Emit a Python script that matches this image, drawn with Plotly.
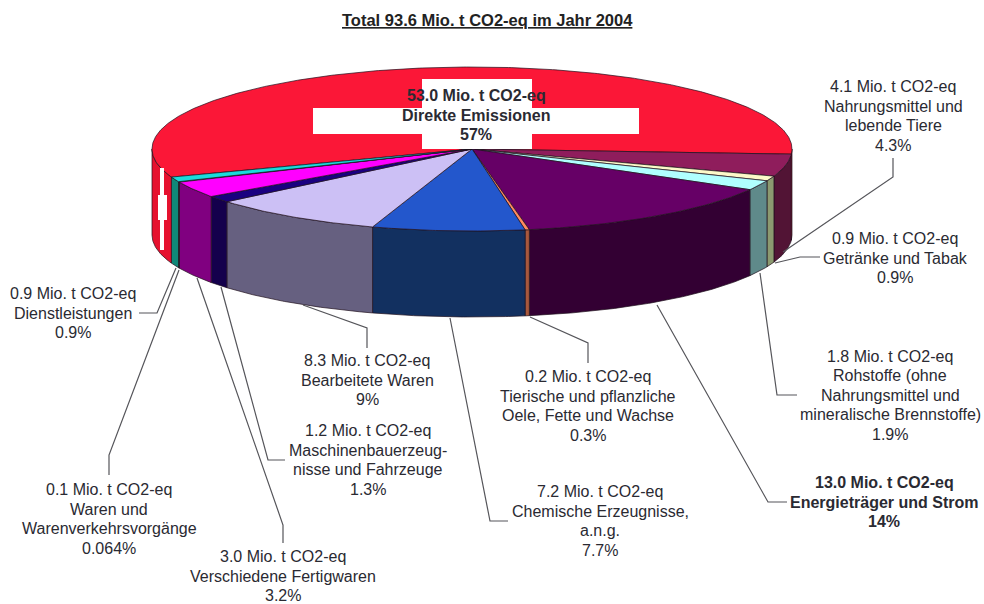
import numpy as np
import plotly.graph_objects as go

# ---- data (clockwise on screen, starting at the right edge) ----
categories = ["Nahrungsmittel", "Getraenke", "Rohstoffe", "Energie", "Tierische", "Chemische",
              "Bearbeitete", "Maschinen", "Verschiedene", "Waren", "Dienstleistungen", "Direkte"]
values = [4.1, 0.9, 1.8, 13.0, 0.2, 7.2, 8.3, 1.2, 3.0, 0.1, 0.9, 53.0]
top_colors = ["#8f1d5c", "#fdf9c9", "#b0ffff", "#660066", "#ff8a60", "#2357cc",
              "#ccc0f5", "#1a0080", "#ff00ff", "#2a2a2a", "#19dcdc", "#fb1737"]
side_colors = ["#521435", "#8c9a70", "#5f8a8a", "#330033", "#a8583c", "#123060",
               "#666080", "#14004c", "#800080", "#24402c", "#0f8878", "#e6112f"]
label_texts = [
    "4.1 Mio. t CO2-eq<br>Nahrungsmittel und<br>lebende Tiere<br>4.3%",
    "0.9 Mio. t CO2-eq<br>Getränke und Tabak<br>0.9%",
    "1.8 Mio. t CO2-eq<br>Rohstoffe (ohne<br>Nahrungsmittel und<br>mineralische Brennstoffe)<br>1.9%",
    "13.0 Mio. t CO2-eq<br>Energieträger und Strom<br>14%",
    "0.2 Mio. t CO2-eq<br>Tierische und pflanzliche<br>Oele, Fette und Wachse<br>0.3%",
    "7.2 Mio. t CO2-eq<br>Chemische Erzeugnisse,<br>a.n.g.<br>7.7%",
    "8.3 Mio. t CO2-eq<br>Bearbeitete Waren<br>9%",
    "1.2 Mio. t CO2-eq<br>Maschinenbauerzeug-<br>nisse und Fahrzeuge<br>1.3%",
    "3.0 Mio. t CO2-eq<br>Verschiedene Fertigwaren<br>3.2%",
    "0.1 Mio. t CO2-eq<br>Waren und<br>Warenverkehrsvorgänge<br>0.064%",
    "0.9 Mio. t CO2-eq<br>Dienstleistungen<br>0.9%",
    "53.0 Mio. t CO2-eq<br>Direkte Emissionen<br>57%",
]
label_bold = [False, False, False, True, False, False, False, False, False, False, False, True]
label_x = [893, 895, 890, 884, 588, 600, 367, 368, 283, 109, 73, 476]
label_y = [116, 258, 395, 502, 406, 521, 380, 460, 576, 519, 313, 115]
leader_lines = [
    [(893, 158), (893, 177), (783, 252)],
    [(820, 257), (800, 257), (775, 263)],
    [(797, 395), (777, 395), (760, 273)],
    [(787, 502), (768, 502), (657, 305)],
    [(588, 363), (588, 343), (530, 317)],
    [(508, 521), (490, 521), (450, 318)],
    [(367, 348), (367, 328), (303, 305)],
    [(285, 460), (268, 460), (221, 287)],
    [(283, 543), (283, 525), (197, 278)],
    [(109, 475), (109, 455), (179, 270)],
    [(139, 313), (157, 313), (176, 268)],
]

# ---- pie geometry ----
CX, CY, RX, RY, DEPTH = 472, 149, 320, 82, 86
START_DEG = 3.6
EDGE = "#20101c"
FONT = "Liberation Sans, Arial, sans-serif"
TEXT = "#2a2a32"
LINE_STEP = 19.5

shares = np.array(values) / sum(values) * 360.0
ends = START_DEG + np.cumsum(shares)
starts = ends - shares


def arc(a, b, dy=0.0):
    t = np.radians(np.linspace(a, b, max(int(abs(b - a)) * 2 + 2, 3)))
    return CX + RX * np.cos(t), CY + RY * np.sin(t) + dy


fig = go.Figure()


def poly(xs, ys, color):
    fig.add_trace(go.Scatter(x=xs, y=ys, mode="lines", fill="toself", fillcolor=color,
                             line=dict(color=EDGE, width=0.7), hoverinfo="skip", showlegend=False))


# side walls: only the part of each slice facing the viewer (0..180 degrees)
for a, b, c in zip(starts, ends, side_colors):
    for lo, hi in ((a, b), (a - 360, b - 360)):
        l, h = max(lo, 0), min(hi, 180)
        if h > l:
            x1, y1 = arc(l, h)
            x2, y2 = arc(h, l, DEPTH)
            poly(np.r_[x1, x2, x1[0]], np.r_[y1, y2, y1[0]], c)

# top faces, red one first
for i in [11] + list(range(11)):
    x, y = arc(starts[i], ends[i])
    poly(np.r_[CX, x, CX], np.r_[CY, y, CY], top_colors[i])

# Swiss cross on the red slice and on its side wall
white = dict(type="rect", fillcolor="white", line=dict(width=0), layer="above", xref="x", yref="y")
shapes = [
    dict(white, x0=313, x1=639, y0=108, y1=134),
    dict(white, x0=422, x1=532, y0=79, y1=149),
    dict(white, x0=160, x1=164, y0=168, y1=250),
    dict(white, x0=158, x1=167, y0=195, y1=220),
]

# leader lines
for pts in leader_lines:
    xs, ys = zip(*pts)
    fig.add_trace(go.Scatter(x=xs, y=ys, mode="lines", line=dict(color="#55555a", width=1.2),
                             hoverinfo="skip", showlegend=False))

annotations = []
for x, y, t, bold in zip(label_x, label_y, label_texts, label_bold):
    lines = t.split("<br>")
    for k, ln in enumerate(lines):
        annotations.append(dict(
            x=x, y=y + (k - (len(lines) - 1) / 2) * LINE_STEP,
            text=f"<b>{ln}</b>" if bold else ln, showarrow=False,
            xanchor="center", yanchor="middle", align="center",
            font=dict(family=FONT, size=16, color=TEXT)))
annotations.append(dict(x=487, y=20, text="<b><u>Total 93.6 Mio. t CO2-eq im Jahr 2004</u></b>", showarrow=False,
                        xanchor="center", yanchor="middle", font=dict(family=FONT, size=16.5, color="#222")))

fig.update_layout(
    width=984, height=604, margin=dict(l=0, r=0, t=0, b=0),
    paper_bgcolor="white", plot_bgcolor="white", showlegend=False,
    xaxis=dict(visible=False, range=[0, 984], fixedrange=True),
    yaxis=dict(visible=False, range=[604, 0], fixedrange=True),
    shapes=shapes, annotations=annotations,
)
fig.write_html("out.html", config=dict(displayModeBar=False),
               post_script="document.body.style.margin='0';document.body.style.overflow='hidden';")
